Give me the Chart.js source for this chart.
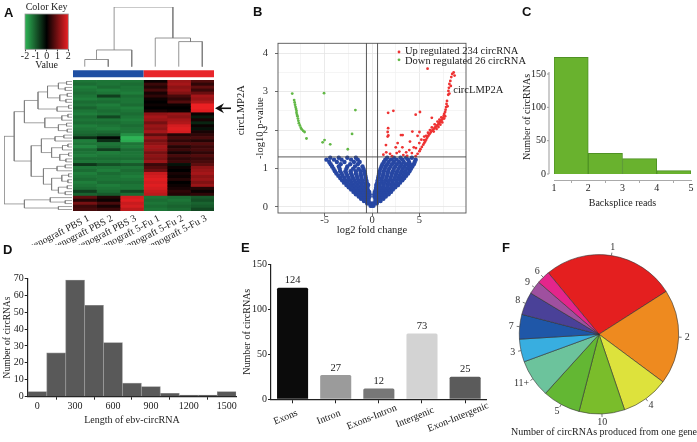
<!DOCTYPE html>
<html>
<head>
<meta charset="utf-8">
<script src="https://cdn.jsdelivr.net/npm/chart.js@4.4.0/dist/chart.umd.min.js"></script>
<style>
  body { margin: 0; background: #fff; }
  #fig { position: relative; width: 697px; height: 442px; overflow: hidden; background: #fff; }
  #fig canvas { position: absolute; }
  .panel { position: absolute; font: bold 13px 'Liberation Sans', Arial, sans-serif; line-height: 13px; color: #111; }
  .note { position: absolute; font: 10px 'Liberation Serif', serif; color: #222; white-space: nowrap; text-align: center; }
</style>
</head>
<body>
<div id="fig">
  <canvas id="keyChart" style="left:15px;top:0px" width="65" height="72"></canvas>
  <canvas id="colTreeChart" style="left:70px;top:0px" width="150" height="80"></canvas>
  <canvas id="rowTreeChart" style="left:0px;top:70px" width="75" height="175"></canvas>
  <canvas id="heatChart" style="left:0px;top:70px" width="245" height="175"></canvas>
  <canvas id="readsChart" style="left:520px;top:40px" width="177" height="175"></canvas>
  <canvas id="volcanoChart" style="left:236px;top:30px" width="300" height="210"></canvas>
  <canvas id="lengthChart" style="left:0px;top:265px" width="245" height="170"></canvas>
  <canvas id="regionChart" style="left:240px;top:255px" width="255" height="187"></canvas>
  <canvas id="geneChart" style="left:505px;top:240px" width="192" height="202"></canvas>

  <div class="panel" style="left:4px;top:6px">A</div>
  <div class="panel" style="left:253px;top:5px">B</div>
  <div class="panel" style="left:522px;top:5px">C</div>
  <div class="panel" style="left:3px;top:243px">D</div>
  <div class="panel" style="left:241px;top:241px">E</div>
  <div class="panel" style="left:502px;top:241px">F</div>
  <div class="note" style="left:504px;top:426px;width:200px">Number of circRNAs produced from one gene</div>
</div>

<script>
// ===== Data =====

// A: heatmap (rows top to bottom, one array per sample)
const samples = ['xenograft PBS 1', 'xenograft PBS 2', 'xenograft PBS 3', 'xenograft 5-Fu 1', 'xenograft 5-Fu 2', 'xenograft 5-Fu 3'];
const pbs1 = [-1.3, -1.2, -1.4, -1.3, -1.2, -1.3, -1.4, -1.2, -1.3, -1.1, -1.3, -1.4, -1.2, -1.3, -1.2, -1.4, -1.3, -1.2, -1.1, -0.5,
  -1.4, -1.3, -1.5, -1.2, -1.3, -1.4, -1.2, -1.3, -0.6, -1.3, -1.2, -1.4, -1.3, -1.2, -1.4, -1.3, -1.2, -0.7, -1.1,
  0.8, 0.3, 1.0, 0.5, 0.6];
const pbs2 = [-1.3, -1.3, -1.2, -1.4, -1.3, -0.7, -1.3, -1.2, -1.4, -1.3, -1.2, -1.3, -0.8, -1.3, -1.2, -1.3, -1.4, -1.2, -1.0, -0.1,
  -0.5, -1.3, -1.2, -0.7, -1.4, -1.3, -1.2, -1.3, -0.9, -1.3, -1.4, -1.2, -1.3, -1.3, -1.2, -1.4, -1.3, -1.2, -1.0,
  0.3, 0.1, 0.6, 0.2, 0.5];
const pbs3 = [-1.3, -1.2, -1.3, -1.3, -1.4, -1.2, -1.3, -1.3, -1.2, -1.4, -1.3, -1.2, -1.3, -1.4, -1.3, -1.2, -1.3, -1.3, -1.6, -2.0,
  -1.9, -1.3, -1.4, -1.2, -1.3, -1.3, -1.2, -1.4, -1.0, -1.3, -1.2, -1.3, -1.4, -1.3, -1.2, -1.3, -1.3, -0.8, -1.2,
  1.8, 1.9, 1.7, 1.8, 1.6];
const fu1 = [0.1, 0.5, 0.3, 0.6, 0.2, 0.4, 0.1, 0.0, 0.1, 0.0, 0.2, 1.2, 1.4, 1.3, 1.0, 1.3, 1.2, 1.4, 0.8, 1.3,
  1.0, 1.2, 1.4, 1.3, 1.0, 1.2, 1.1, 1.3, 0.5, 0.7, 0.9, 1.7, 1.8, 1.9, 1.8, 1.9, 1.8, 1.7, 1.6,
  -1.3, -1.2, -1.3, -1.2, -1.3];
const fu2 = [1.3, 1.4, 1.2, 1.3, 1.1, 0.6, 0.4, 0.7, 0.1, 0.0, 0.1, 1.3, 1.2, 1.4, 1.5, 1.8, 1.9, 1.8, 0.3, 0.6,
  0.4, 0.7, 0.3, 0.5, 0.2, 0.6, 0.4, 0.5, -0.2, 0.1, 0.0, 0.2, 0.1, 0.3, 0.0, 0.1, 0.2, 0.4, 0.3,
  -1.2, -1.3, -1.2, -1.1, -1.2];
const fu3 = [0.7, 0.4, 0.8, 0.5, 0.9, 1.4, 1.3, 1.5, 2.0, 2.0, 1.9, 0.1, -0.3, 0.2, -0.4, 0.1, -0.2, 0.2, 0.4, 0.6,
  0.3, 0.7, 0.5, 0.6, 0.4, 0.7, 0.5, 0.6, 0.8, 1.2, 1.3, 1.4, 1.2, 1.3, 1.1, 1.3, 0.3, 0.1, 0.4,
  -1.0, -0.9, -1.1, -1.0, -0.8];
const heatColumns = [pbs1, pbs2, pbs3, fu1, fu2, fu3];
const circLMP2ARow = 9;
const keyTicks = [-2, -1, 0, 1, 2];

// dendrograms: [left, right, height], leaves are row / column indexes
const colTree = [[[0, 1, 0.12], 2, 0.28], [3, [4, 5, 0.42], 0.48], 1.0];
const rowTree = [
  [
    [
      [
        [[[0, 1, 0.08], [2, 3, 0.1], 0.2], [[4, 5, 0.07], [6, 7, 0.09], 0.18], 0.36],
        [[8, 9, 0.05], 10, 0.22],
        0.5
      ],
      [[[11, 12, 0.06], 13, 0.15], [[14, 15, 0.08], [16, 17, 0.07], 0.2], 0.4],
      0.7
    ],
    [
      [[[18, 19, 0.12], 20, 0.25], [[[21, 22, 0.06], 23, 0.14], [[24, 25, 0.05], [26, 27, 0.09], 0.18], 0.3], 0.45],
      [[[28, 29, 0.1], 30, 0.22], [[[31, 32, 0.05], [33, 34, 0.06], 0.15], [[35, 36, 0.07], [37, 38, 0.1], 0.2], 0.3], 0.42],
      0.6
    ],
    0.85
  ],
  [[39, [40, 41, 0.1], 0.32], [42, 43, 0.2], 0.7],
  1.0
];

// B: volcano plot [log2 fold change, -log10 p]
const fcCut = 0.585;
const pCut = 1.301;
const circPoint = [8.03, 2.92];
const volcanoXTicks = [-7.5, -5, -2.5, 0, 2.5, 5, 7.5];
const volcanoYTicks = [0, 0.5, 1, 1.5, 2, 2.5, 3, 3.5, 4];
const upPoints = [
  [4.6, 1.32], [4.8, 1.38], [5.0, 1.45], [5.1, 1.5], [5.25, 1.56], [5.4, 1.62], [5.5, 1.66], [5.6, 1.7], [5.7, 1.75], [5.8, 1.8],
  [5.9, 1.84], [6.0, 1.88], [6.1, 1.91], [6.2, 1.95], [6.3, 1.98], [6.4, 2.0], [6.5, 2.03], [6.6, 2.06], [6.7, 2.08], [6.8, 2.11],
  [6.9, 2.13], [7.0, 2.16], [7.1, 2.19], [7.2, 2.22], [7.3, 2.25], [7.4, 2.28], [7.5, 2.32], [7.55, 2.37], [7.6, 2.42], [7.7, 2.47],
  [7.75, 2.53], [7.8, 2.6], [7.85, 2.68], [7.9, 2.76], [8.03, 2.92], [8.05, 3.02], [8.1, 3.1], [8.15, 3.2], [8.25, 3.28], [8.35, 3.38],
  [8.45, 3.46], [8.6, 3.5], [8.7, 3.42],
  [6.1, 2.0], [6.3, 2.07], [6.5, 1.96], [6.6, 2.15], [6.8, 2.03], [6.9, 2.22], [7.0, 2.08], [7.1, 2.27], [7.2, 2.14], [7.3, 2.33],
  [7.4, 2.2], [7.6, 2.3], [7.7, 2.36], [5.9, 1.93], [5.7, 1.85], [5.5, 1.74], [7.95, 2.62], [8.15, 2.95], [8.3, 3.15],
  [5.85, 3.6], [1.7, 2.45], [2.25, 2.5], [4.6, 2.4], [5.05, 2.47], [6.3, 2.32], [1.7, 2.05], [1.65, 1.95], [1.72, 1.86], [3.05, 1.87],
  [4.25, 1.96], [1.47, 1.61], [1.65, 1.83], [3.23, 1.87], [2.7, 1.66], [2.88, 1.44], [3.93, 1.48], [4.63, 1.53], [4.98, 1.66], [5.5, 1.83],
  [2.5, 1.55], [3.3, 1.35], [3.6, 1.42], [4.4, 1.55], [4.0, 1.7], [1.2, 1.36], [1.5, 1.42], [2.1, 1.32], [4.2, 1.4], [5.2, 1.75],
  [3.2, 1.55], [2.6, 1.4], [1.9, 1.38], [3.7, 1.33], [4.8, 1.85], [5.0, 1.95]
];
const downPoints = [
  [-8.4, 2.95], [-8.2, 2.78], [-8.15, 2.72], [-8.1, 2.66], [-8.05, 2.6], [-8.0, 2.55], [-7.95, 2.5], [-7.95, 2.45], [-7.9, 2.4],
  [-7.85, 2.36], [-7.8, 2.3], [-7.75, 2.24], [-7.7, 2.18], [-7.6, 2.12], [-7.5, 2.06], [-7.4, 2.02], [-7.25, 1.98], [-7.1, 1.95],
  [-6.9, 1.78], [-5.05, 2.96], [-1.75, 2.52], [-2.1, 1.9], [-5.2, 1.68], [-5.0, 1.74], [-4.4, 1.63], [-2.55, 1.5]
];
// not significant circRNAs, listed per -log10 p row: [y, [x...]]
const blueRows = [
  [0.03, [-0.15, 0, 0.15]],
  [0.09, [-0.5, -0.3, -0.12, 0.12, 0.3, 0.5]],
  [0.15, [-0.85, -0.6, -0.35, 0.35, 0.6, 0.9]],
  [0.21, [-1.15, -0.9, -0.65, -0.35, 0.35, 0.65, 0.9, 1.2]],
  [0.27, [-1.4, -1.1, -0.8, -0.5, -0.25, 0.25, 0.5, 0.8, 1.1, 1.45]],
  [0.33, [-1.7, -1.4, -1.1, -0.8, -0.5, -0.25, 0.25, 0.5, 0.8, 1.1, 1.4, 1.75]],
  [0.39, [-1.95, -1.65, -1.3, -0.95, -0.6, -0.3, 0.3, 0.6, 0.95, 1.3, 1.65, 2.0]],
  [0.45, [-2.2, -1.85, -1.5, -1.15, -0.8, -0.45, 0.4, 0.75, 1.1, 1.45, 1.8, 2.2]],
  [0.51, [-2.45, -2.1, -1.7, -1.3, -0.9, -0.5, 0.45, 0.85, 1.25, 1.65, 2.05, 2.45]],
  [0.57, [-2.7, -2.3, -1.9, -1.5, -1.1, -0.7, -0.4, 0.45, 0.8, 1.2, 1.6, 2.0, 2.4, 2.75]],
  [0.63, [-2.95, -2.55, -2.15, -1.75, -1.35, -0.95, -0.55, 0.55, 0.95, 1.35, 1.75, 2.15, 2.55, 2.95]],
  [0.69, [-3.15, -2.75, -2.3, -1.85, -1.4, -1.0, -0.6, 0.6, 1.0, 1.4, 1.8, 2.2, 2.6, 3.0, 3.2]],
  [0.75, [-3.35, -2.9, -2.45, -2.0, -1.55, -1.1, -0.65, 0.65, 1.05, 1.5, 1.95, 2.4, 2.8, 3.15, 3.4]],
  [0.81, [-3.55, -3.1, -2.6, -2.1, -1.6, -1.15, -0.7, 0.7, 1.15, 1.6, 2.05, 2.5, 2.9, 3.3, 3.6]],
  [0.87, [-3.75, -3.2, -2.7, -2.2, -1.7, -1.2, -0.75, 0.75, 1.2, 1.65, 2.1, 2.55, 3.0, 3.4, 3.8]],
  [0.93, [-3.9, -3.35, -2.8, -2.25, -1.7, -1.2, -0.8, 0.8, 1.25, 1.7, 2.2, 2.65, 3.1, 3.5, 3.95]],
  [0.99, [-4.05, -3.4, -2.7, -2.0, -1.4, -0.9, 0.9, 1.35, 1.8, 2.3, 2.8, 3.25, 3.7, 4.1]],
  [1.05, [-4.2, -3.5, -2.6, -1.8, -1.0, 1.0, 1.45, 1.95, 2.45, 2.95, 3.4, 3.85, 4.25]],
  [1.11, [-4.35, -3.3, -2.3, -1.5, 1.1, 1.6, 2.1, 2.6, 3.1, 3.6, 4.0, 4.4]],
  [1.17, [-4.5, -3.7, -2.9, -1.9, -1.3, 1.25, 1.75, 2.3, 2.85, 3.35, 3.9, 4.5]],
  [1.23, [-4.8, -4.0, -3.2, -2.2, -1.5, 1.4, 2.0, 2.6, 3.2, 3.8, 4.6]],
  [1.28, [-4.4, -3.5, -2.6, -1.7, 1.6, 2.3, 3.0, 3.6, 4.2]]
];

// C: backsplice reads histogram
const readBins = [1.5, 2.5, 3.5, 4.5];
const readCounts = [175, 31, 23, 5];
const readXTicks = [1, 2, 3, 4, 5];
const readYTicks = [0, 50, 100, 150];

// D: length histogram
const lenBins = [0, 150, 300, 450, 600, 750, 900, 1050, 1200, 1350, 1500];
const lenCounts = [3, 26, 69, 54, 32, 8, 6, 2, 1, 1, 3];
const lenXTicks = [0, 300, 600, 900, 1200, 1500];
const lenYTicks = [0, 10, 20, 30, 40, 50, 60, 70];

// E: genomic origin
const regionLabels = ['Exons', 'Intron', 'Exons-Intron', 'Intergenic', 'Exon-Intergenic'];
const regionCounts = [124, 27, 12, 73, 25];
const regionColors = ['#0b0b0b', '#9b9b9b', '#777777', '#d3d3d3', '#5b5b5b'];
const regionYTicks = [0, 50, 100, 150];

// F: circRNAs per gene
const geneLabels = ['1', '2', '4', '10', '5', '11+', '3', '7', '8', '9', '6'];
const geneCounts = [70, 50, 25, 24, 20, 20, 12, 13, 12, 7, 7];
const geneColors = ['#e41f1f', '#ee8a1f', '#dde23c', '#7abd2b', '#63b733', '#6cc39c', '#38aee0', '#1f57a8', '#4a4198', '#9f509f', '#e4258b'];

// ===== Helpers =====

Chart.defaults.font.family = "'Liberation Serif', 'Times New Roman', serif";
Chart.defaults.font.size = 10;
Chart.defaults.color = '#222';

function heatColor(v) {
  const t = Math.max(-2, Math.min(2, v)) / 2;
  if (t < 0) {
    const k = -t;
    return 'rgb(' + Math.round(45 * k) + ',' + Math.round(180 * k) + ',' + Math.round(85 * k) + ')';
  }
  return 'rgb(' + Math.round(235 * t) + ',' + Math.round(32 * t) + ',' + Math.round(35 * t) + ')';
}

// turns a merge tree into U-shaped line points, null breaks the line
function dendro(tree, toPoint) {
  const pts = [];
  function walk(n) {
    if (typeof n === 'number') return { p: n, h: 0 };
    const a = walk(n[0]), b = walk(n[1]), h = n[2];
    pts.push(toPoint(a.p, a.h), toPoint(a.p, h), toPoint(b.p, h), toPoint(b.p, b.h), { x: null, y: null });
    return { p: (a.p + b.p) / 2, h: h };
  }
  walk(tree);
  return pts;
}

function baseOptions(padding) {
  return {
    responsive: false,
    animation: false,
    events: [],
    layout: { padding: padding },
    plugins: { legend: { display: false }, tooltip: { enabled: false } }
  };
}

const fixedTicks = list => scale => { scale.ticks = list.map(v => ({ value: v })); };
const plain = v => String(v);

// ===== A: color key =====
const keyGradient = {
  id: 'keyGradient',
  beforeDatasetsDraw(chart) {
    const { ctx, chartArea: a, scales: { x } } = chart;
    const g = ctx.createLinearGradient(x.getPixelForValue(-2), 0, x.getPixelForValue(2), 0);
    keyTicks.forEach(v => g.addColorStop((v + 2) / 4, heatColor(v)));
    ctx.save();
    ctx.fillStyle = g;
    ctx.fillRect(a.left, a.top, a.width, a.height);
    ctx.strokeStyle = '#999';
    ctx.lineWidth = 0.8;
    ctx.strokeRect(a.left, a.top, a.width, a.height);
    ctx.restore();
  }
};

new Chart(document.getElementById('keyChart'), {
  type: 'scatter',
  data: { datasets: [] },
  options: Object.assign(baseOptions({ left: 10, right: 11.7 }), {
    plugins: {
      legend: { display: false }, tooltip: { enabled: false },
      title: { display: true, text: 'Color Key', font: { size: 10, weight: 'normal' }, padding: { top: 1, bottom: 1 }, color: '#222' }
    },
    scales: {
      x: {
        min: -2, max: 2,
        afterBuildTicks: fixedTicks(keyTicks),
        afterFit: s => { s.height = 22.7; },
        border: { display: false },
        grid: { drawOnChartArea: false, tickLength: 2, color: '#444' },
        ticks: { padding: 0, autoSkip: false, maxRotation: 0, minRotation: 0, font: { size: 10, lineHeight: 1 }, callback: plain },
        title: { display: true, text: 'Value', font: { size: 10 }, padding: { top: 0, bottom: 1 } }
      },
      y: { display: false, min: 0, max: 1 }
    }
  }),
  plugins: [keyGradient]
});

// ===== A: column dendrogram and group bar =====
new Chart(document.getElementById('colTreeChart'), {
  type: 'line',
  data: {
    datasets: [
      { data: dendro(colTree, (p, h) => ({ x: p + 0.5, y: h })), borderColor: '#7a7a7a', borderWidth: 0.8, pointRadius: 0 },
      { data: [{ x: 0, y: -0.118 }, { x: 3, y: -0.118 }], borderColor: '#1f4fa3', borderWidth: 7, pointRadius: 0 },
      { data: [{ x: 3, y: -0.118 }, { x: 6, y: -0.118 }], borderColor: '#e8262b', borderWidth: 7, pointRadius: 0 }
    ]
  },
  options: Object.assign(baseOptions({ left: 3, right: 6, top: 7, bottom: 2 }), {
    scales: {
      x: { type: 'linear', display: false, min: 0, max: 6 },
      y: { type: 'linear', display: false, min: -0.19, max: 1 }
    }
  })
});

// ===== A: row dendrogram =====
new Chart(document.getElementById('rowTreeChart'), {
  type: 'line',
  data: {
    datasets: [
      { data: dendro(rowTree, (p, h) => ({ x: h, y: p })), borderColor: '#7a7a7a', borderWidth: 0.7, pointRadius: 0 }
    ]
  },
  options: Object.assign(baseOptions({ left: 4, right: 3, top: 10, bottom: 34 }), {
    scales: {
      x: { type: 'linear', display: false, min: 0, max: 1, reverse: true },
      y: { type: 'linear', display: false, min: -0.5, max: pbs1.length - 0.5, reverse: true }
    }
  })
});

// ===== A: heatmap =====
const heatDecor = {
  id: 'heatDecor',
  afterDraw(chart) {
    const { ctx, chartArea: a, scales: { x, y } } = chart;
    ctx.save();
    ctx.fillStyle = '#222';
    ctx.font = "10px 'Liberation Serif'";
    ctx.textAlign = 'right';
    ctx.textBaseline = 'middle';
    samples.forEach((s, j) => {
      ctx.save();
      ctx.translate(x.getPixelForValue(j + 0.5) + 4, a.bottom + 7);
      ctx.rotate(-27 * Math.PI / 180);
      ctx.fillText(s, 0, 0);
      ctx.restore();
    });
    // arrow pointing at circLMP2A row
    const ay = y.getPixelForValue(circLMP2ARow);
    const ax = a.right + 1;
    ctx.fillStyle = '#111';
    ctx.strokeStyle = '#111';
    ctx.lineWidth = 1.6;
    ctx.beginPath();
    ctx.moveTo(ax + 6, ay);
    ctx.lineTo(ax + 16, ay);
    ctx.stroke();
    ctx.beginPath();
    ctx.moveTo(ax, ay);
    ctx.lineTo(ax + 9, ay - 5);
    ctx.lineTo(ax + 6, ay);
    ctx.lineTo(ax + 9, ay + 5);
    ctx.closePath();
    ctx.fill();
    ctx.translate(241, ay + 2);
    ctx.rotate(-Math.PI / 2);
    ctx.textAlign = 'center';
    ctx.fillStyle = '#222';
    ctx.font = "10.5px 'Liberation Serif'";
    ctx.fillText('circLMP2A', 0, 0);
    ctx.restore();
  }
};

new Chart(document.getElementById('heatChart'), {
  type: 'bar',
  data: {
    labels: pbs1.map((_, i) => i),
    datasets: heatColumns.map((col, j) => ({
      label: samples[j],
      data: col.map(() => 1),
      backgroundColor: col.map(heatColor),
      borderWidth: 0,
      barPercentage: 1,
      categoryPercentage: 1
    }))
  },
  options: Object.assign(baseOptions({ left: 73, right: 31, top: 10, bottom: 34 }), {
    indexAxis: 'y',
    scales: {
      x: { stacked: true, display: false, min: 0, max: 6 },
      y: { stacked: true, display: false }
    }
  }),
  plugins: [heatDecor]
});

// ===== B: volcano =====
const blueData = [];
blueRows.forEach(([yv, xs]) => xs.forEach(xv => blueData.push({ x: xv, y: yv })));

const volcanoNotes = {
  id: 'volcanoNotes',
  beforeDatasetsDraw(chart) {
    const { ctx, chartArea: a } = chart;
    ctx.save();
    ctx.strokeStyle = '#555';
    ctx.lineWidth = 0.9;
    ctx.strokeRect(a.left, a.top, a.width, a.height);
    ctx.restore();
  },
  afterDraw(chart) {
    const { ctx, chartArea: a, scales: { x, y } } = chart;
    ctx.save();
    ctx.font = "10.5px 'Liberation Serif'";
    ctx.textBaseline = 'middle';
    ctx.fillStyle = '#ee3333';
    ctx.beginPath(); ctx.arc(a.right - 67, a.top + 8.7, 1.4, 0, Math.PI * 2); ctx.fill();
    ctx.fillStyle = '#62b846';
    ctx.beginPath(); ctx.arc(a.right - 67, a.top + 16.5, 1.4, 0, Math.PI * 2); ctx.fill();
    ctx.fillStyle = '#222';
    ctx.fillText('Up regulated 234 circRNA', a.right - 61, a.top + 8);
    ctx.fillText('Down regulated 26 circRNA', a.right - 61, a.top + 18);
    ctx.fillText('circLMP2A', x.getPixelForValue(circPoint[0]) + 5, y.getPixelForValue(circPoint[1]) - 4);
    ctx.restore();
  }
};

const majorX = v => Math.abs(v % 5) < 1e-9;
const majorY = v => Math.abs(v % 1) < 1e-9;

new Chart(document.getElementById('volcanoChart'), {
  type: 'scatter',
  data: {
    datasets: [
      { data: [{ x: -fcCut, y: -1 }, { x: -fcCut, y: 5 }], showLine: true, pointRadius: 0, borderColor: '#444', borderWidth: 0.9, order: 0 },
      { data: [{ x: fcCut, y: -1 }, { x: fcCut, y: 5 }], showLine: true, pointRadius: 0, borderColor: '#444', borderWidth: 0.9, order: 0 },
      { data: [{ x: -11, y: pCut }, { x: 11, y: pCut }], showLine: true, pointRadius: 0, borderColor: '#444', borderWidth: 0.9, order: 0 },
      { label: 'Down', data: downPoints.map(([x, y]) => ({ x, y })), backgroundColor: '#62b846', borderWidth: 0, pointRadius: 1.4, order: 1 },
      { label: 'Up', data: upPoints.map(([x, y]) => ({ x, y })), backgroundColor: '#ee3333', borderWidth: 0, pointRadius: 1.4, order: 2 },
      { label: 'NS', data: blueData, backgroundColor: '#2747a3', borderWidth: 0, pointRadius: 2.2, order: 3 }
    ]
  },
  options: Object.assign(baseOptions({ top: 13, right: 70 }), {
    scales: {
      x: {
        min: -9.9, max: 9.9,
        afterBuildTicks: fixedTicks(volcanoXTicks),
        afterFit: s => { s.height = 27; },
        border: { display: false },
        grid: {
          lineWidth: 0.8, tickLength: 3,
          color: c => (c.tick && majorX(c.tick.value)) ? '#e4e4e4' : '#f2f2f2',
          tickColor: c => (c.tick && majorX(c.tick.value)) ? '#444' : 'rgba(0,0,0,0)'
        },
        ticks: { autoSkip: false, maxRotation: 0, padding: -1.5, color: '#333', font: { size: 10.5, lineHeight: 1 },
          callback: v => majorX(v) ? v : '' },
        title: { display: true, text: 'log2 fold change', font: { size: 10.5 }, padding: { top: 0, bottom: 3.7 } }
      },
      y: {
        min: -0.16, max: 4.26,
        afterBuildTicks: fixedTicks(volcanoYTicks),
        afterFit: s => { s.width = 42; },
        border: { display: false },
        grid: {
          lineWidth: 0.8, tickLength: 3,
          color: c => (c.tick && majorY(c.tick.value)) ? '#e4e4e4' : '#f2f2f2',
          tickColor: c => (c.tick && majorY(c.tick.value)) ? '#444' : 'rgba(0,0,0,0)'
        },
        ticks: { autoSkip: false, padding: 7, color: '#333', font: { size: 10.5 },
          callback: v => majorY(v) ? v : '' },
        title: { display: true, text: '-log10 p-value', font: { size: 10.5 }, padding: { top: 17.7, bottom: 0 } }
      }
    }
  }),
  plugins: [volcanoNotes]
});

// ===== C: backsplice reads =====
const offsetAxisC = {
  id: 'offsetAxisC',
  afterDraw(chart) {
    const { ctx, chartArea: a, scales: { y } } = chart;
    const ax = a.left - 5;
    ctx.save();
    ctx.strokeStyle = '#999';
    ctx.lineWidth = 1;
    ctx.beginPath();
    ctx.moveTo(ax, y.getPixelForValue(0));
    ctx.lineTo(ax, y.getPixelForValue(153));
    readYTicks.forEach(v => {
      const py = y.getPixelForValue(v);
      ctx.moveTo(ax - 2, py);
      ctx.lineTo(ax, py);
    });
    ctx.stroke();
    ctx.restore();
  }
};

new Chart(document.getElementById('readsChart'), {
  type: 'bar',
  data: {
    datasets: [{
      data: readBins.map((b, i) => ({ x: b, y: readCounts[i] })),
      backgroundColor: '#69b22e', borderColor: '#4f9224', borderWidth: 1,
      barPercentage: 1, categoryPercentage: 1
    }]
  },
  options: Object.assign(baseOptions({ top: 13.6, right: 6 }), {
    scales: {
      x: {
        type: 'linear', min: 1, max: 5, offset: false,
        afterBuildTicks: fixedTicks(readXTicks),
        afterFit: s => { s.height = 35; },
        border: { color: '#aaa' },
        grid: { drawOnChartArea: false, tickLength: 3, color: '#aaa' },
        ticks: { padding: -1, callback: plain },
        title: { display: true, text: 'Backsplice reads', padding: { top: 0, bottom: 6 } }
      },
      y: {
        min: -9, max: 180,
        afterBuildTicks: fixedTicks(readYTicks),
        afterFit: s => { s.width = 34; },
        border: { display: false },
        grid: { display: false, drawTicks: false },
        ticks: { padding: 8, callback: plain },
        title: { display: true, text: 'Number of circRNAs', padding: { top: 1.7, bottom: 0 } }
      }
    }
  }),
  plugins: [offsetAxisC]
});

// ===== D: length histogram =====
new Chart(document.getElementById('lengthChart'), {
  type: 'bar',
  data: {
    datasets: [{
      data: lenBins.map((b, i) => ({ x: b, y: lenCounts[i] })),
      backgroundColor: '#595959', borderColor: '#8d8d8d', borderWidth: 0.8,
      barPercentage: 1, categoryPercentage: 1
    }]
  },
  options: Object.assign(baseOptions({ top: 13.3, right: 8.8 }), {
    scales: {
      x: {
        type: 'linear', min: -75, max: 1575, offset: false,
        afterBuildTicks: fixedTicks(lenXTicks),
        afterFit: s => { s.height = 38.3; },
        border: { color: '#222', width: 1.2 },
        grid: { drawOnChartArea: false, tickLength: 3, color: '#222' },
        ticks: { padding: 1, autoSkip: false, maxRotation: 0, callback: plain },
        title: { display: true, text: 'Length of ebv-circRNA', font: { size: 10 }, padding: { top: 0, bottom: 8.3 } }
      },
      y: {
        min: 0, max: 70,
        afterBuildTicks: fixedTicks(lenYTicks),
        afterFit: s => { s.width = 27.7; },
        border: { color: '#222', width: 1.2 },
        grid: { drawOnChartArea: false, tickLength: 3, color: '#222' },
        ticks: { padding: 1, callback: plain },
        title: { display: true, text: 'Number of circRNAs', font: { size: 9.5 }, padding: { top: 2, bottom: 0 } }
      }
    }
  })
});

// ===== E: genomic origin =====
const regionNotes = {
  id: 'regionNotes',
  afterDatasetsDraw(chart) {
    const { ctx, scales: { x } } = chart;
    const meta = chart.getDatasetMeta(0);
    ctx.save();
    ctx.fillStyle = '#222';
    ctx.textAlign = 'center';
    ctx.font = "10.5px 'Liberation Serif'";
    ctx.textBaseline = 'bottom';
    meta.data.forEach((bar, i) => ctx.fillText(regionCounts[i], bar.x, bar.y - 2));
    ctx.font = "10px 'Liberation Serif'";
    ctx.textBaseline = 'middle';
    regionLabels.forEach((t, i) => {
      ctx.save();
      ctx.translate(x.getPixelForTick(i) - 7, x.top + 18);
      ctx.rotate(-22 * Math.PI / 180);
      ctx.fillText(t, 0, 0);
      ctx.restore();
    });
    ctx.restore();
  }
};

new Chart(document.getElementById('regionChart'), {
  type: 'bar',
  data: {
    labels: regionLabels,
    datasets: [{
      data: regionCounts, backgroundColor: regionColors, borderWidth: 0, borderRadius: 1.5,
      barPercentage: 0.72, categoryPercentage: 1
    }]
  },
  options: Object.assign(baseOptions({ top: 9.3, right: 8.3 }), {
    scales: {
      x: {
        afterFit: s => { s.height = 42.7; },
        border: { color: '#222', width: 1.2 },
        grid: { offset: false, drawOnChartArea: false, tickLength: 4, color: '#222' },
        ticks: { display: false }
      },
      y: {
        min: 0, max: 150,
        afterBuildTicks: fixedTicks(regionYTicks),
        afterFit: s => { s.width = 31; },
        border: { color: '#222', width: 1.2 },
        grid: { drawOnChartArea: false, tickLength: 3, color: '#222' },
        ticks: { padding: 1, callback: plain },
        title: { display: true, text: 'Number of circRNAs', padding: { top: 1.3, bottom: 0 } }
      }
    }
  }),
  plugins: [regionNotes]
});

// ===== F: circRNAs per gene =====
const pieLabels = {
  id: 'pieLabels',
  afterDraw(chart) {
    const { ctx } = chart;
    const meta = chart.getDatasetMeta(0);
    ctx.save();
    ctx.font = "10px 'Liberation Serif'";
    ctx.fillStyle = '#333';
    ctx.strokeStyle = '#555';
    ctx.lineWidth = 0.8;
    ctx.textAlign = 'center';
    ctx.textBaseline = 'middle';
    meta.data.forEach((arc, i) => {
      const ang = (arc.startAngle + arc.endAngle) / 2;
      const ux = Math.cos(ang), uy = Math.sin(ang);
      const r = arc.outerRadius;
      ctx.beginPath();
      ctx.moveTo(arc.x + ux * r, arc.y + uy * r);
      ctx.lineTo(arc.x + ux * (r + 3), arc.y + uy * (r + 3));
      ctx.stroke();
      const w = ctx.measureText(geneLabels[i]).width;
      ctx.fillText(geneLabels[i], arc.x + ux * (r + 6 + w / 2), arc.y + uy * (r + 8));
    });
    ctx.restore();
  }
};

new Chart(document.getElementById('geneChart'), {
  type: 'pie',
  data: {
    labels: geneLabels,
    datasets: [{ data: geneCounts, backgroundColor: geneColors, borderColor: '#333', borderWidth: 0.6, hoverOffset: 0 }]
  },
  options: Object.assign(baseOptions({ left: 14, right: 18, top: 14.3, bottom: 27.7 }), {
    rotation: -39.5
  }),
  plugins: [pieLabels]
});
</script>
</body>
</html>
